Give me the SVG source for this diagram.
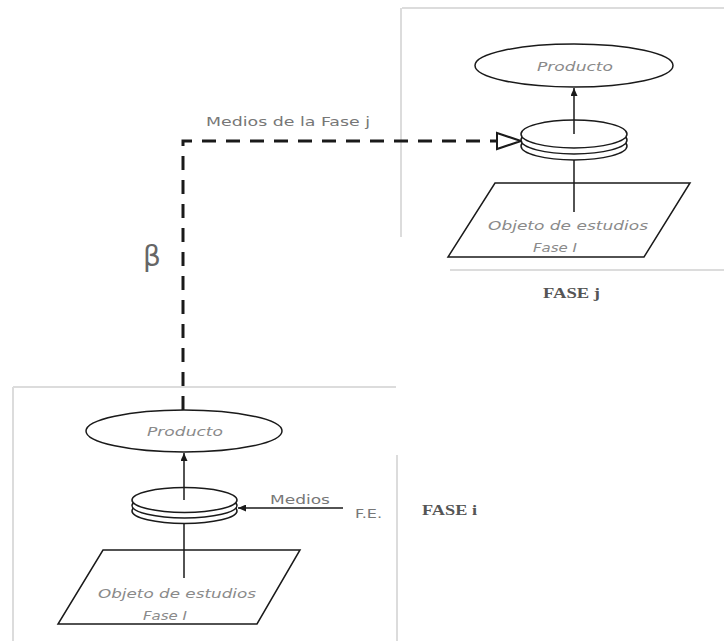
<svg xmlns="http://www.w3.org/2000/svg" width="724" height="641" viewBox="0 0 724 641">
<style>
.frame{stroke:#dcdcdc;stroke-width:2;fill:none}
.ln{stroke:#1a1a1a;stroke-width:1.5;fill:none}
.shape{stroke:#1a1a1a;stroke-width:1.5;fill:#fff}
.it{font-family:"DejaVu Sans",sans-serif;font-style:italic;font-size:13px;fill:#8a8a8a;text-anchor:middle}
.lbl{font-family:"DejaVu Sans",sans-serif;font-size:13px;fill:#777}
.fase{font-family:"Liberation Serif",serif;font-size:14px;font-weight:bold;fill:#555}
.dash{stroke:#1a1a1a;stroke-width:3;fill:none;stroke-dasharray:14 10}
</style>
<defs>
<marker id="ah" markerWidth="8" markerHeight="7" refX="8" refY="3.5" orient="auto" markerUnits="userSpaceOnUse">
<path d="M0,0 L8,3.5 L0,7 z" fill="#1a1a1a"/>
</marker>
</defs>
<rect width="724" height="641" fill="#fff"/>
<g id="frames">
<path class="frame" d="M402,8 H724 M401,8 V237 M450,270 H724"/>
<path class="frame" d="M13,387 H396 M13,387 V641 M397,455 V641"/>
</g>
<g id="connectors">
<path class="dash" d="M183,410 V141 H497"/>
<polygon points="497,133 521,141 497,149" fill="#fff" stroke="#1a1a1a" stroke-width="2"/>
<line class="ln" x1="574" y1="134" x2="574" y2="88" marker-end="url(#ah)"/>
<line class="ln" x1="574" y1="160" x2="574" y2="212"/>
<line class="ln" x1="184" y1="500" x2="184" y2="453" marker-end="url(#ah)"/>
<line class="ln" x1="184" y1="523" x2="184" y2="578"/>
<line class="ln" x1="343" y1="508" x2="238" y2="508" marker-end="url(#ah)"/>
</g>
<g id="producto-j">
<ellipse class="shape" cx="574" cy="65.5" rx="99" ry="21.5"/>
<text class="it" x="575" y="70.5" textLength="76" lengthAdjust="spacingAndGlyphs">Producto</text>
</g>
<g id="disk-j">
<ellipse class="shape" cx="574" cy="146" rx="53" ry="14"/>
<ellipse class="shape" cx="574" cy="140" rx="53" ry="14"/>
<ellipse class="shape" cx="574" cy="134" rx="53" ry="14"/>
<line class="ln" x1="574" y1="134" x2="574" y2="120"/>
</g>
<g id="objeto-j">
<polygon class="shape" points="495,183 690,183 644,257 448,257" fill="none"/>
<line class="ln" x1="574" y1="183" x2="574" y2="212"/>
<text class="it" x="568" y="230" textLength="160" lengthAdjust="spacingAndGlyphs">Objeto de estudios</text>
<text class="it" x="555" y="252" textLength="44" lengthAdjust="spacingAndGlyphs">Fase I</text>
</g>
<g id="fase-j"><text class="fase" x="543" y="298" textLength="57" lengthAdjust="spacingAndGlyphs">FASE j</text></g>
<g id="medios-fase-j"><text class="lbl" x="206" y="126" textLength="164" lengthAdjust="spacingAndGlyphs">Medios de la Fase j</text></g>
<g id="beta"><text x="152" y="266" font-family="DejaVu Sans,sans-serif" font-size="28" fill="#666" text-anchor="middle">β</text></g>
<g id="producto-i">
<ellipse class="shape" cx="184" cy="431" rx="98" ry="21"/>
<text class="it" x="185" y="436" textLength="76" lengthAdjust="spacingAndGlyphs">Producto</text>
</g>
<g id="disk-i">
<ellipse class="shape" cx="184.5" cy="511" rx="52.5" ry="12.5"/>
<ellipse class="shape" cx="184.5" cy="505.5" rx="52.5" ry="12.5"/>
<ellipse class="shape" cx="184.5" cy="500" rx="52.5" ry="12.5"/>
<line class="ln" x1="184" y1="500" x2="184" y2="487.5"/>
</g>
<g id="objeto-i">
<polygon class="shape" points="103,550 300,550 257,624 58,624" fill="none"/>
<line class="ln" x1="184" y1="550" x2="184" y2="578"/>
<text class="it" x="177" y="598" textLength="158" lengthAdjust="spacingAndGlyphs">Objeto de estudios</text>
<text class="it" x="165" y="620" textLength="44" lengthAdjust="spacingAndGlyphs">Fase I</text>
</g>
<g id="medios-i">
<text class="lbl" x="270" y="504" textLength="60" lengthAdjust="spacingAndGlyphs">Medios</text>
<text class="lbl" x="355" y="518" textLength="27" lengthAdjust="spacingAndGlyphs">F.E.</text>
</g>
<g id="fase-i"><text class="fase" x="422" y="515" textLength="55" lengthAdjust="spacingAndGlyphs">FASE i</text></g>
</svg>
